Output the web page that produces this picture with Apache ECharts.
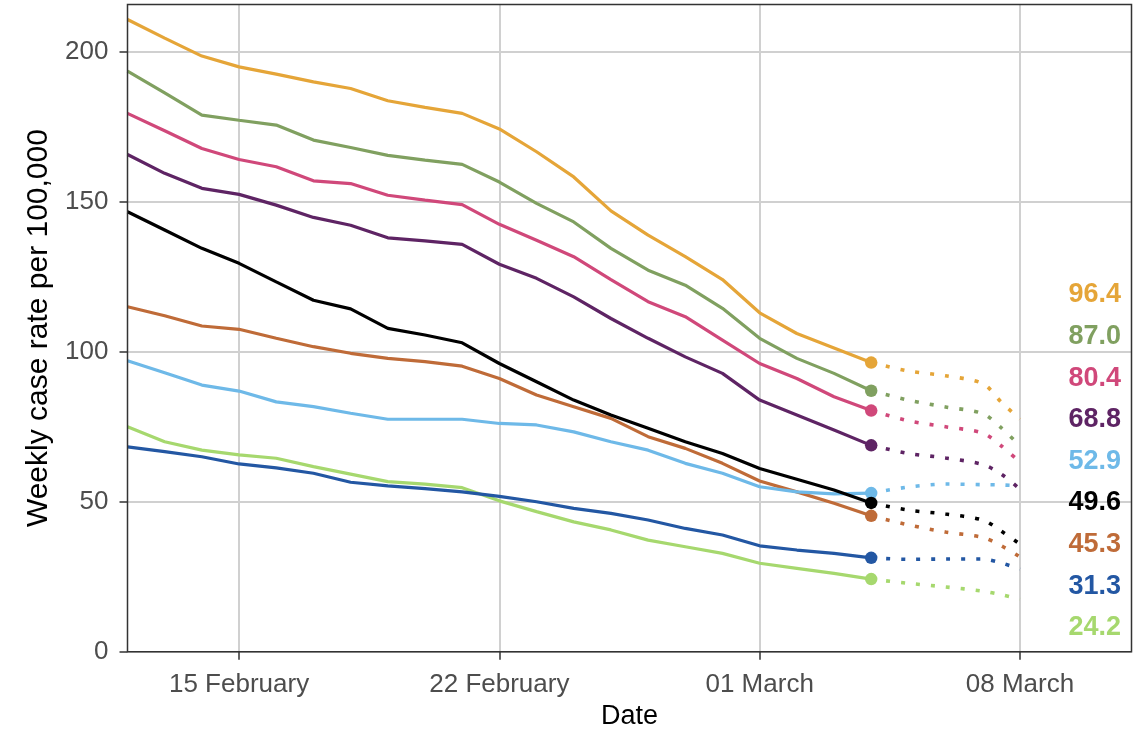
<!DOCTYPE html>
<html>
<head>
<meta charset="utf-8">
<script src="https://cdn.jsdelivr.net/npm/echarts@6/dist/echarts.min.js"></script>
<style>
html,body{margin:0;padding:0;background:#fff;}
#chart{width:1146px;height:735px;}
</style>
</head>
<body>
<div id="chart"></div>
<script>
// ---- data ----
const DATES = ['2021-02-12','2021-02-13','2021-02-14','2021-02-15','2021-02-16','2021-02-17','2021-02-18',
  '2021-02-19','2021-02-20','2021-02-21','2021-02-22','2021-02-23','2021-02-24','2021-02-25','2021-02-26',
  '2021-02-27','2021-02-28','2021-03-01','2021-03-02','2021-03-03','2021-03-04'];
const FC_DATES = ['2021-03-04 00:00','2021-03-05 00:00','2021-03-06 00:00','2021-03-07 00:00','2021-03-07 12:00','2021-03-08 00:00'];

const ORANGE      = [210.8,204.6,198.6,195.0,192.6,190.0,187.8,183.7,181.5,179.5,174.3,166.7,158.3,147.0,138.9,131.7,124.1,113.0,106.1,101.3,96.4];
const GREEN       = [193.6,186.3,178.9,177.2,175.6,170.6,168.1,165.5,163.9,162.5,156.6,149.5,143.3,134.5,127.2,122.2,114.5,104.5,97.8,92.8,87.0];
const PINK        = [179.5,173.7,167.8,164.1,161.7,157.0,156.1,152.2,150.6,149.1,142.5,137.2,131.7,124.1,116.7,111.7,103.9,96.1,91.1,85.0,80.4];
const PURPLE      = [165.8,159.5,154.5,152.5,148.9,144.8,142.2,138.0,137.0,135.8,129.2,124.5,118.3,111.1,104.5,98.3,92.8,83.9,78.9,73.9,68.8];
const LIGHTBLUE   = [97.0,93.0,88.9,86.9,83.3,81.7,79.5,77.5,77.5,77.5,76.1,75.6,73.3,70.0,67.2,62.8,59.5,55.0,53.3,52.6,52.9];
const BLACK       = [146.7,140.6,134.5,129.5,123.3,117.2,114.3,107.8,105.6,103.0,96.1,90.0,83.9,78.9,74.5,70.0,66.1,61.1,57.5,53.9,49.6];
const BROWN       = [115.0,112.0,108.6,107.5,104.5,101.7,99.5,97.8,96.7,95.2,91.1,85.6,81.7,77.8,71.7,67.8,62.8,56.9,53.3,49.5,45.3];
const DARKBLUE    = [68.3,66.7,65.0,62.6,61.3,59.5,56.5,55.3,54.4,53.3,51.8,50.0,47.8,46.1,43.9,41.1,38.9,35.3,33.9,32.8,31.3];
const LIGHTGREEN  = [75.0,70.0,67.2,65.6,64.5,61.7,59.2,56.7,55.9,54.7,50.3,46.7,43.3,40.6,37.2,35.0,32.8,29.5,27.8,26.1,24.2];

const ORANGE_FC     = [96.4,93.6,92.0,89.4,83.2,77.5];
const GREEN_FC      = [87.0,83.9,81.6,79.4,74.6,68.6];
const PINK_FC       = [80.4,77.0,75.0,72.9,68.6,63.2];
const PURPLE_FC     = [68.8,66.1,64.6,62.4,59.2,54.2];
const LIGHTBLUE_FC  = [52.9,54.9,55.9,55.7,55.6,55.3];
const BLACK_FC      = [49.6,47.2,45.9,43.9,40.2,35.9];
const BROWN_FC      = [45.3,42.3,39.9,38.1,35.3,31.6];
const DARKBLUE_FC   = [31.3,30.8,30.9,30.9,29.6,27.5];
const LIGHTGREEN_FC = [24.2,22.8,21.6,20.2,19.0,17.5];

const TICK_DATES  = ['2021-02-15','2021-02-22','2021-03-01','2021-03-08'];
const TICK_LABELS = ['15 February','22 February','01 March','08 March'];
const Y_TICKS = [0,50,100,150,200];
const X_RANGE = ['2021-02-12','2021-03-11'];
const Y_MAX = 215.8;

// ---- helpers: dates -> days since start of x range ----
function ts(s){
  const [d,t] = s.split(' ');
  const [y,m,dd] = d.split('-').map(Number);
  let h = 0, mi = 0;
  if (t) { [h,mi] = t.split(':').map(Number); }
  return Date.UTC(y, m-1, dd, h, mi);
}
const T0 = ts(X_RANGE[0]);
function day(s){ return Math.round((ts(s) - T0) / 3600000) / 24; }
const FONT = "'Liberation Sans', Arial, sans-serif";
const X_TICKS = TICK_DATES.map(day);

const GROUPS = [
  {vals: LIGHTGREEN, fc: LIGHTGREEN_FC, color: '#A6D86E'},
  {vals: DARKBLUE,   fc: DARKBLUE_FC,   color: '#2357A3'},
  {vals: BROWN,      fc: BROWN_FC,      color: '#BF6B38'},
  {vals: LIGHTBLUE,  fc: LIGHTBLUE_FC,  color: '#6EB9E8'},
  {vals: PURPLE,     fc: PURPLE_FC,     color: '#5E2464'},
  {vals: PINK,       fc: PINK_FC,       color: '#D0487A'},
  {vals: GREEN,      fc: GREEN_FC,      color: '#80A060'},
  {vals: ORANGE,     fc: ORANGE_FC,     color: '#E5A538'},
  {vals: BLACK,      fc: BLACK_FC,      color: '#000000'}
];

const series = [];
GROUPS.forEach(g => {
  series.push({
    type: 'line',
    data: g.fc.map((v,i) => [day(FC_DATES[i]), v]),
    showSymbol: false,
    smooth: 0.3,
    lineStyle: {color: g.color, width: 3.6, type: [4, 11], cap: 'butt'},
    z: 2, silent: true
  });
});
GROUPS.forEach(g => {
  const last = g.vals.length - 1;
  series.push({
    type: 'line',
    data: g.vals.map((v,i) => [day(DATES[i]), v]),
    showSymbol: true,
    showAllSymbol: true,
    symbol: 'circle',
    symbolSize: (val, p) => p.dataIndex === last ? 12.5 : 0,
    itemStyle: {color: g.color},
    lineStyle: {color: g.color, width: 3.2},
    z: 3, silent: true
  });
});

// right-hand labels, ordered by latest value
const sorted = GROUPS.slice().sort((a,b) => b.vals[b.vals.length-1] - a.vals[a.vals.length-1]);
const graphics = sorted.map((g,i) => ({
  type: 'text',
  x: 1121, y: 295 + i*41.6,
  z: 10,
  style: {
    text: g.vals[g.vals.length-1].toFixed(1),
    fill: g.color,
    font: "bold 27px " + FONT,
    textAlign: 'right', align: 'right',
    textVerticalAlign: 'middle', verticalAlign: 'middle'
  }
}));

const chart = echarts.init(document.getElementById('chart'), null, {renderer: 'canvas'});
chart.setOption({
  animation: false,
  backgroundColor: '#ffffff',
  grid: {left: 127.5, right: 14.5, top: 4.5, bottom: 83.3, containLabel: false, outerBoundsMode: 'none',
         show: true, borderColor: '#333333', borderWidth: 1.5, backgroundColor: 'transparent', z: 5},
  xAxis: {
    type: 'value',
    min: 0, max: day(X_RANGE[1]),
    name: 'Date', nameLocation: 'middle', nameGap: 51,
    nameTextStyle: {color: '#000', fontSize: 27, fontFamily: FONT},
    axisLine: {show: false},
    axisTick: {show: true, length: 8, lineStyle: {color: '#333333', width: 1.5}, customValues: X_TICKS},
    axisLabel: {
      customValues: X_TICKS,
      color: '#4d4d4d', fontSize: 26, fontFamily: FONT, margin: 20,
      formatter: (v) => { const i = X_TICKS.indexOf(v); return i >= 0 ? TICK_LABELS[i] : ''; }
    },
    splitLine: {show: true, lineStyle: {color: '#d0d0d0', width: 2}}
  },
  yAxis: {
    type: 'value',
    min: 0, max: Y_MAX, interval: 50,
    name: 'Weekly case rate per 100,000', nameLocation: 'middle', nameGap: 72,
    nameTextStyle: {color: '#000', fontSize: 30, fontFamily: FONT},
    axisLine: {show: false},
    axisTick: {show: true, length: 8, lineStyle: {color: '#333333', width: 1.5}, customValues: Y_TICKS},
    axisLabel: {customValues: Y_TICKS, color: '#4d4d4d', fontSize: 26, fontFamily: FONT, margin: 19},
    splitLine: {show: true, lineStyle: {color: '#d0d0d0', width: 2}}
  },
  graphic: graphics,
  series: series
});
</script>
</body>
</html>
